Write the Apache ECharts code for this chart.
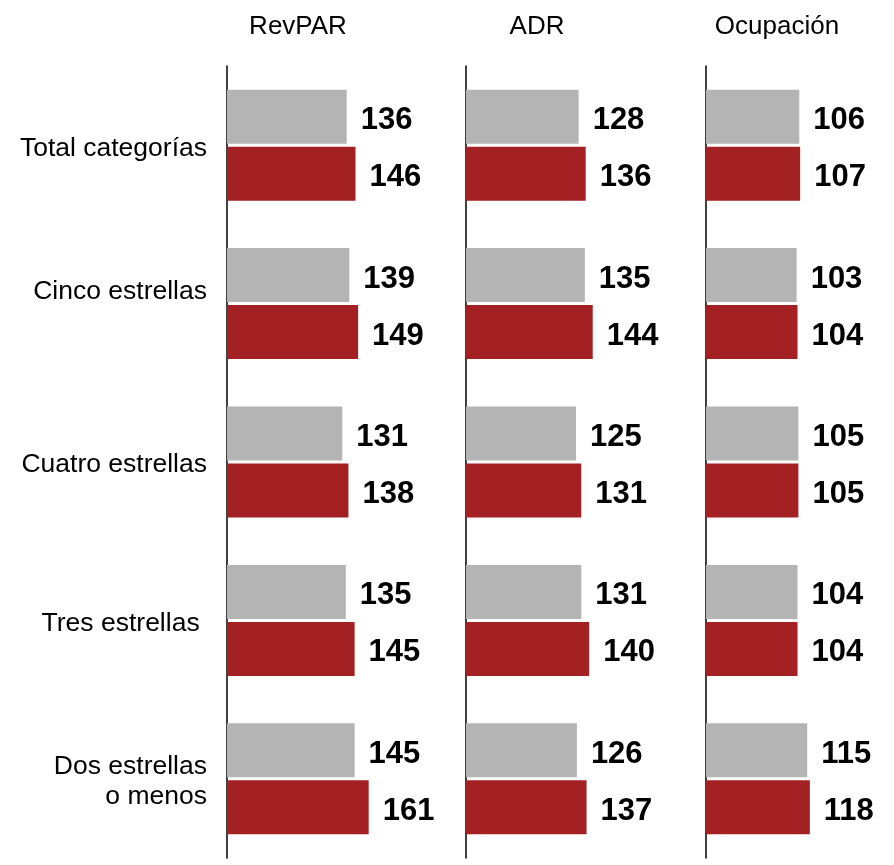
<!DOCTYPE html>
<html>
<head>
<meta charset="utf-8">
<script src="https://cdn.jsdelivr.net/npm/echarts@6/dist/echarts.min.js"></script>
<style>
html,body{margin:0;padding:0;background:#fff;}
#chart{width:894px;height:865px;}
</style>
</head>
<body>
<div id="chart"></div>
<script>
var categories = ['Total categorías', 'Cinco estrellas\n', 'Cuatro estrellas', 'Tres estrellas ', 'Dos estrellas\no menos'];
var panelTitles = ['RevPAR', 'ADR', 'Ocupación'];
var revparPrev = [136, 139, 131, 135, 145];
var revparCurr = [146, 149, 138, 145, 161];
var adrPrev = [128, 135, 125, 131, 126];
var adrCurr = [136, 144, 131, 140, 137];
var occPrev = [106, 103, 105, 104, 115];
var occCurr = [107, 104, 105, 104, 118];

var panels = [[revparPrev, revparCurr], [adrPrev, adrCurr], [occPrev, occCurr]];
var gridLefts = [227, 466, 706];
var titleCenters = [298, 537, 777];
var GRAY = '#b4b4b4', RED = '#a32023';
var FONT = "'Liberation Sans', Arial, sans-serif";

function catLabel(v) {
  return v.split('\n').map(function (l) { return l ? '{a|' + l + '}' : ''; }).join('\n');
}

var grids = [], xAxes = [], yAxes = [], series = [], graphics = [];
panels.forEach(function (p, i) {
  grids.push({left: gridLefts[i], top: 66, width: 176, height: 792, containLabel: false});
  xAxes.push({type: 'value', gridIndex: i, min: 0, max: 200, show: false, splitLine: {show: false}});
  yAxes.push({
    type: 'category', gridIndex: i, inverse: true, data: categories,
    axisLine: {show: true, lineStyle: {color: '#000', width: 1.5}},
    axisTick: {show: false},
    axisLabel: {
      show: i === 0, margin: 20, fontSize: 26.5, lineHeight: 30, color: '#000', fontFamily: FONT, align: 'right',
      formatter: catLabel,
      rich: {a: {fontSize: 26.5, lineHeight: 30, padding: [6, 0, 0, 0], color: '#000', fontFamily: FONT}}
    }
  });
  [[p[0], GRAY], [p[1], RED]].forEach(function (s) {
    series.push({
      type: 'bar', xAxisIndex: i, yAxisIndex: i, data: s[0],
      barWidth: 54, barGap: '5.5%',
      itemStyle: {color: s[1]},
      label: {show: true, position: 'right', distance: 14, offset: [0, 4], fontSize: 31, fontWeight: 'bold', color: '#000', fontFamily: FONT},
      silent: true, animation: false
    });
  });
  graphics.push({
    type: 'text', x: titleCenters[i], y: 27,
    style: {text: panelTitles[i], fontSize: 26, fontFamily: FONT, fill: '#000', textAlign: 'center', textVerticalAlign: 'middle'}
  });
});

var chart = echarts.init(document.getElementById('chart'), null, {renderer: 'canvas'});
chart.setOption({
  backgroundColor: '#fff',
  animation: false,
  grid: grids, xAxis: xAxes, yAxis: yAxes, series: series,
  graphic: graphics
});
</script>
</body>
</html>
